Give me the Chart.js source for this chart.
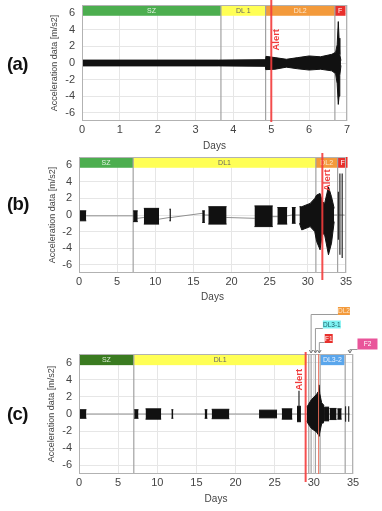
<!DOCTYPE html>
<html>
<head>
<meta charset="utf-8">
<script src="https://cdn.jsdelivr.net/npm/chart.js@4.4.1/dist/chart.umd.min.js"></script>
<style>
    html, body { margin: 0; padding: 0; background: #fff; }
    #page { position: relative; width: 382px; height: 511px; overflow: hidden; font-family: 'Liberation Sans', Arial, sans-serif; }
    canvas { position: absolute; left: 0; }
    .tag { position: absolute; left: 7px; font-weight: bold; font-size: 18.5px; letter-spacing: -0.6px; line-height: 1; color: #111; }
</style>
</head>
<body>
<div id="page">
    <canvas id="chartA" width="382" height="152" style="top:0px"></canvas>
    <canvas id="chartB" width="382" height="155" style="top:148px"></canvas>
    <canvas id="chartC" width="382" height="205" style="top:300px"></canvas>
    <div class="tag" style="top:55px">(a)</div>
    <div class="tag" style="top:195px">(b)</div>
    <div class="tag" style="top:405px">(c)</div>
</div>
<script>
/**
 * Acceleration records of three monitored slopes, one Chart.js chart per panel
 */

// Shared axis data
const yTickValues = [-6, -4, -2, 0, 2, 4, 6];

// ---- Panel (a) ----
const aDayTicks = [0, 1, 2, 3, 4, 5, 6, 7];
const aZoneNames = ['SZ', 'DL 1', 'DL2', 'F'];
const aZoneStart = [0, 3.67, 4.85, 6.68];
const aZoneEnd = [3.67, 4.85, 6.68, 6.96];
const aBoundaryDays = [3.67, 4.85, 6.68];
const aAlertDay = 5.0;
const aEnvDays = [0, 3.6, 4.84, 4.86, 5.1, 5.4, 5.7, 6.0, 6.3, 6.6, 6.7, 6.74, 6.77, 6.79, 6.81, 6.84];
const aEnvHi = [0.35, 0.35, 0.4, 0.8, 0.65, 0.45, 0.65, 0.85, 0.75, 1.05, 1.3, 2.2, 5.0, 3.0, 1.0, 0.3];
const aEnvLo = [-0.35, -0.35, -0.4, -0.8, -0.75, -0.5, -0.7, -0.85, -0.75, -0.95, -1.3, -2.5, -5.0, -4.0, -1.5, -0.3];

// ---- Panel (b) ----
const bDayTicks = [0, 5, 10, 15, 20, 25, 30, 35];
const bZoneNames = ['SZ', 'DL1', 'DL2', 'F'];
const bZoneStart = [0, 7.1, 31.05, 33.9];
const bZoneEnd = [7.1, 31.05, 33.9, 35.2];
const bBoundaryDays = [7.1, 31.05, 33.9];
const bAlertDay = 31.9;
const bBurstStart = [0.05, 7.1, 8.5, 11.85, 16.15, 16.95, 23.0, 26.0, 27.9];
const bBurstEnd = [0.95, 7.7, 10.5, 12.05, 16.5, 19.35, 25.4, 27.3, 28.4];
const bBurstHi = [0.5, 0.5, 0.8, 0.7, 0.5, 1.0, 1.1, 0.9, 0.9];
const bBurstLo = [-0.7, -0.8, -1.1, -0.7, -0.9, -1.1, -1.4, -1.1, -1.0];
const bEnvDays = [28.9, 29.2, 30.3, 30.9, 31.15, 31.6, 31.9, 32.2, 32.7, 33.1, 33.45];
const bEnvHi = [1.0, 1.0, 1.4, 2.0, 2.4, 2.6, 1.6, 1.4, 3.4, 2.2, 0.8];
const bEnvLo = [-1.0, -1.8, -1.4, -2.0, -3.2, -4.2, -2.2, -2.4, -4.8, -3.4, -0.8];
const bSpikeDays = [34.0, 34.2, 34.5];
const bSpikeHi = [2.8, 5.0, 5.0];
const bSpikeLo = [-3.0, -4.8, -5.2];
const bTraceDays = [0.95, 7.1, 7.7, 8.5, 10.5, 11.85, 12.05, 16.15, 16.5, 16.95, 19.35, 23.0, 25.4, 26.0, 27.3, 27.9, 28.4, 28.9, 33.45, 34.8];
const bTraceVals = [-0.1, -0.1, -0.4, -0.3, -0.5, -0.3, -0.3, 0.2, 0.0, 0.0, -0.3, -0.4, -0.2, -0.2, -0.1, 0.0, 0.0, 0.0, 0.0, 0.0];

// ---- Panel (c) ----
const cDayTicks = [0, 5, 10, 15, 20, 25, 30, 35];
const cZoneNames = ['SZ', 'DL1', 'DL3-2'];
const cZoneStart = [0, 7.0, 30.85];
const cZoneEnd = [7.0, 29.05, 33.9];
const cBoundaryDays = [7.0, 29.35, 29.65, 30.2, 30.8, 34.0];
const cAlertDay = 28.95;
const cF1LineDay = 30.6;
const cCalloutNames = ['DL2', 'DL3-1', 'F1', 'F2'];
const cCalloutDays = [29.65, 30.2, 30.7, 34.6];
const cBurstStart = [0.0, 7.05, 8.5, 11.8, 16.05, 16.95, 23.0, 25.9, 27.85, 31.3, 32.0, 33.0];
const cBurstEnd = [0.95, 7.6, 10.5, 12.05, 16.4, 19.2, 25.3, 27.25, 28.35, 31.95, 32.9, 33.55];
const cBurstHi = [0.5, 0.5, 0.6, 0.5, 0.5, 0.55, 0.45, 0.6, 0.9, 0.8, 0.65, 0.6];
const cBurstLo = [-0.5, -0.5, -0.6, -0.5, -0.5, -0.55, -0.45, -0.6, -0.9, -0.8, -0.65, -0.6];
const cEnvDays = [29.1, 29.3, 29.7, 30.35, 30.55, 30.65, 30.75, 31.0, 31.3];
const cEnvHi = [0.8, 1.1, 1.7, 2.3, 2.6, 3.4, 2.4, 1.3, 1.0];
const cEnvLo = [-0.8, -1.2, -1.7, -2.1, -2.4, -2.6, -2.2, -1.1, -1.0];
const cSpikeDays = [28.1, 34.05, 34.45];
const cSpikeHi = [2.7, 0.9, 0.9];
const cSpikeLo = [0.9, -0.9, -0.9];
const cTraceDays = [0.95, 34.6];
const cTraceVals = [0.0, 0.0];

/**
 * Look and placement (kept apart from the data)
 */
const FONT = "'Liberation Sans', Arial, sans-serif";
const INK = '#111111';
const TICK_COLOR = '#444444';
const ZONE_COLORS = {
    'SZ': ['#4cae4f', '#e4f3e4'],
    'DL 1': ['#ffff55', '#666666'],
    'DL1': ['#ffff55', '#666666'],
    'DL2': ['#f39a3b', '#fde6cc'],
    'F': ['#e8302c', '#ffffff'],
    'DL3-2': ['#5aa6ec', '#e8f2ff']
};
const DARK_SZ = ['#3a7b20', '#d8ecd0'];
const CALLOUT_STYLE = {
    'DL2': { center: 33.84, rise: 43, w: 12, h: 8, bg: '#f39a3b', fg: '#fde6cc' },
    'DL3-1': { center: 32.3, rise: 29.5, w: 18, h: 8, bg: '#7ff3f3', fg: '#1d5e66' },
    'F1': { center: 31.9, rise: 15.5, w: 8, h: 9, bg: '#e8302c', fg: '#ffffff' },
    'F2': { center: 36.85, rise: 10, w: 20, h: 11, bg: '#e9559a', fg: '#ffffff' }
};

/**
 * Build the filled envelope / spike / trace datasets of one panel
 */
function rectSegments(starts, ends, his, los) {
    return starts.map((s, i) => ({ days: [s, ends[i]], hi: [his[i], his[i]], lo: [los[i], los[i]] }));
}

function signalDatasets(segments, spikes, trace) {
    const sets = [];
    segments.forEach(seg => {
        sets.push({
            data: seg.days.map((d, i) => ({ x: d, y: seg.hi[i] })),
            borderColor: INK, borderWidth: 1, fill: false
        });
        sets.push({
            data: seg.days.map((d, i) => ({ x: d, y: seg.lo[i] })),
            borderColor: INK, borderWidth: 1, backgroundColor: INK, fill: '-1'
        });
    });
    if (spikes) {
        spikes.days.forEach((d, i) => {
            sets.push({
                data: [{ x: d, y: spikes.lo[i] }, { x: d, y: spikes.hi[i] }],
                borderColor: '#262626', borderWidth: 1.2, fill: false
            });
        });
    }
    if (trace) {
        // drawn last in the list so it ends up underneath
        sets.push({
            data: trace.days.map((d, i) => ({ x: d, y: trace.vals[i] })),
            borderColor: '#8f8f8f', borderWidth: 1, fill: false
        });
    }
    return sets;
}

/**
 * Zone bands, boundaries, alert line and call-outs, drawn through the chart scales
 */
function decorPlugin(p) {
    return {
        id: 'decor',
        beforeDatasetsDraw(chart) {
            const { ctx, chartArea: area, scales: { x, y } } = chart;
            ctx.save();
            const yTop = y.getPixelForValue(7);
            const yBot = y.getPixelForValue(5.7);
            p.zones.names.forEach((name, i) => {
                const x0 = x.getPixelForValue(p.zones.start[i]);
                const x1 = x.getPixelForValue(p.zones.end[i]);
                const col = (p.darkSZ && name === 'SZ') ? DARK_SZ : ZONE_COLORS[name];
                ctx.fillStyle = col[0];
                ctx.fillRect(x0, yTop, x1 - x0, yBot - yTop);
                ctx.fillStyle = col[1];
                ctx.font = '7px ' + FONT;
                ctx.textAlign = 'center';
                ctx.textBaseline = 'middle';
                ctx.fillText(name, (x0 + x1) / 2, (yTop + yBot) / 2 + 0.5);
            });
            ctx.strokeStyle = '#a2a2a2';
            ctx.lineWidth = 1.2;
            p.boundaries.forEach(d => {
                const px = x.getPixelForValue(d);
                ctx.beginPath();
                ctx.moveTo(px, area.top);
                ctx.lineTo(px, area.bottom);
                ctx.stroke();
            });
            ctx.restore();
        },
        afterDatasetsDraw(chart) {
            const { ctx, chartArea: area, scales: { x, y } } = chart;
            ctx.save();
            // plot frame
            ctx.strokeStyle = '#b2b2b2';
            ctx.lineWidth = 1;
            ctx.strokeRect(area.left + 0.5, area.top + 0.5, area.right - area.left - 1, area.bottom - area.top - 1);

            if (p.f1Line !== undefined) {
                const fx = x.getPixelForValue(p.f1Line);
                ctx.strokeStyle = 'rgba(240,110,90,0.9)';
                ctx.lineWidth = 1;
                ctx.beginPath();
                ctx.moveTo(fx, area.top);
                ctx.lineTo(fx, area.bottom);
                ctx.stroke();
            }

            // alert line + label
            const ax = x.getPixelForValue(p.alert);
            ctx.strokeStyle = 'rgba(244,60,60,0.9)';
            ctx.lineWidth = 2;
            ctx.beginPath();
            ctx.moveTo(ax, area.top - p.alertUp);
            ctx.lineTo(ax, area.bottom + p.alertDown);
            ctx.stroke();
            ctx.translate(ax + p.alertTextDx, y.getPixelForValue(p.alertTextY));
            ctx.rotate(-Math.PI / 2);
            ctx.fillStyle = '#f03a3a';
            ctx.font = 'bold 9.5px ' + FONT;
            ctx.textAlign = 'center';
            ctx.textBaseline = 'middle';
            ctx.fillText('Alert', 0, 0);
            ctx.restore();

            if (p.callouts) {
                ctx.save();
                p.callouts.names.forEach((name, i) => {
                    const st = CALLOUT_STYLE[name];
                    const anchor = x.getPixelForValue(p.callouts.days[i]);
                    const cx = x.getPixelForValue(st.center);
                    const cy = area.top - st.rise;
                    const bx = cx - st.w / 2;
                    // leader
                    ctx.strokeStyle = '#9a9a9a';
                    ctx.lineWidth = 1;
                    const ly = Math.round(cy + st.h / 2 - 1) + 0.5;
                    ctx.beginPath();
                    ctx.moveTo(bx, ly);
                    ctx.lineTo(anchor, ly);
                    ctx.lineTo(anchor, area.top - 1);
                    ctx.stroke();
                    ctx.beginPath();
                    ctx.moveTo(anchor - 1.8, area.top - 4);
                    ctx.lineTo(anchor, area.top - 1);
                    ctx.lineTo(anchor + 1.8, area.top - 4);
                    ctx.strokeStyle = '#777';
                    ctx.stroke();
                    // box
                    ctx.fillStyle = st.bg;
                    ctx.fillRect(bx, cy - st.h / 2, st.w, st.h);
                    ctx.fillStyle = st.fg;
                    ctx.font = '6.5px ' + FONT;
                    ctx.textAlign = 'center';
                    ctx.textBaseline = 'middle';
                    ctx.fillText(name, cx, cy + 0.5);
                });
                ctx.restore();
            }
        }
    };
}

/**
 * Create one panel chart
 */
function makePanel(canvasId, p) {
    const ticksFont = { family: FONT, size: 11 };
    new Chart(document.getElementById(canvasId), {
        type: 'line',
        data: { datasets: p.datasets },
        options: {
            responsive: false,
            animation: false,
            events: [],
            layout: { padding: p.pad, autoPadding: false },
            elements: { point: { radius: 0 }, line: { tension: 0 } },
            plugins: { legend: { display: false }, tooltip: { enabled: false } },
            scales: {
                x: {
                    type: 'linear',
                    min: 0,
                    max: p.xMax,
                    afterBuildTicks: s => { s.ticks = p.xTicks.map(v => ({ value: v })); },
                    afterFit: s => {
                        s.height = p.xHeight;
                        s.paddingLeft = 0;
                        s.paddingRight = 0;
                    },
                    ticks: { color: TICK_COLOR, font: ticksFont, padding: 2, maxRotation: 0 },
                    grid: { color: '#e6e6e6', drawTicks: false },
                    border: { display: false },
                    title: { display: true, text: 'Days', color: TICK_COLOR, font: { family: FONT, size: 10 }, padding: 0 }
                },
                y: {
                    min: -7,
                    max: 7,
                    afterBuildTicks: s => { s.ticks = yTickValues.map(v => ({ value: v })); },
                    afterFit: s => {
                        s.width = p.yWidth;
                        s.paddingTop = 0;
                        s.paddingBottom = 0;
                    },
                    ticks: { color: TICK_COLOR, font: ticksFont, padding: 7 },
                    grid: { color: '#e6e6e6', drawTicks: false },
                    border: { display: false },
                    title: { display: true, text: 'Acceleration data [m/s2]', color: TICK_COLOR, font: { family: FONT, size: 9 }, padding: 0 }
                }
            }
        },
        plugins: [decorPlugin(p)]
    });
}

makePanel('chartA', {
    pad: { left: 49.6, right: 35, top: 5, bottom: 0 },
    yWidth: 32.4, xHeight: 31, xMax: 7, xTicks: aDayTicks,
    zones: { names: aZoneNames, start: aZoneStart, end: aZoneEnd },
    boundaries: aBoundaryDays,
    alert: aAlertDay, alertUp: 6, alertDown: 1, alertTextDx: 5, alertTextY: 2.8,
    datasets: signalDatasets([{ days: aEnvDays, hi: aEnvHi, lo: aEnvLo }])
});

makePanel('chartB', {
    pad: { left: 47.6, right: 36, top: 9, bottom: 0 },
    yWidth: 31.4, xHeight: 30, xMax: 35, xTicks: bDayTicks,
    zones: { names: bZoneNames, start: bZoneStart, end: bZoneEnd },
    boundaries: bBoundaryDays,
    alert: bAlertDay, alertUp: 4, alertDown: 7, alertTextDx: 5, alertTextY: 4.2,
    datasets: signalDatasets(
        rectSegments(bBurstStart, bBurstEnd, bBurstHi, bBurstLo).concat([{ days: bEnvDays, hi: bEnvHi, lo: bEnvLo }]),
        { days: bSpikeDays, hi: bSpikeHi, lo: bSpikeLo },
        { days: bTraceDays, vals: bTraceVals }
    )
});

makePanel('chartC', {
    pad: { left: 46.6, right: 29, top: 54, bottom: 0 },
    yWidth: 32.4, xHeight: 31, xMax: 35, xTicks: cDayTicks,
    zones: { names: cZoneNames, start: cZoneStart, end: cZoneEnd },
    darkSZ: true,
    boundaries: cBoundaryDays,
    f1Line: cF1LineDay,
    alert: cAlertDay, alertUp: 2, alertDown: 8, alertTextDx: -6, alertTextY: 4.0,
    callouts: { names: cCalloutNames, days: cCalloutDays },
    datasets: signalDatasets(
        rectSegments(cBurstStart, cBurstEnd, cBurstHi, cBurstLo).concat([{ days: cEnvDays, hi: cEnvHi, lo: cEnvLo }]),
        { days: cSpikeDays, hi: cSpikeHi, lo: cSpikeLo },
        { days: cTraceDays, vals: cTraceVals }
    )
});
</script>
</body>
</html>
